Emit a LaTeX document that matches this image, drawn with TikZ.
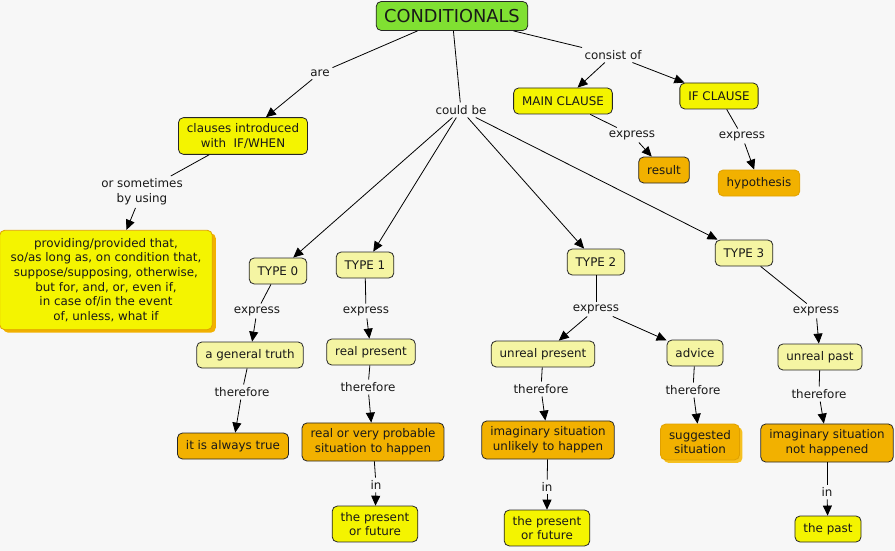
\documentclass[tikz,border=0pt]{standalone}
\usepackage{fontspec}
\setmainfont{DejaVu Sans}
\usetikzlibrary{arrows.meta,shadows}

\definecolor{mapbg}{HTML}{F7F7F7}
\definecolor{titlegreen}{HTML}{80E032}
\definecolor{yel}{HTML}{F4F400}
\definecolor{paleyel}{HTML}{F5F5A3}
\definecolor{org}{HTML}{F2B100}
\definecolor{orgline}{HTML}{E0A000}
\definecolor{orgshadow}{HTML}{F5C020}

\begin{document}
\begin{tikzpicture}[x=1pt, y=-1pt, ->, >={Triangle[length=10pt,width=9pt]}, line width=0.8pt, draw=black]
	\tikzstyle{every node}=[font=\fontsize{11.9}{14.6}\selectfont, text=black!90]
	\tikzstyle{concept}=[draw=black!85, rounded corners=5pt, align=center, inner xsep=8.5pt, inner ysep=6pt, minimum height=26pt]
	\tikzstyle{link}=[inner sep=2.5pt, align=center]
	\useasboundingbox[fill=mapbg] (0,0) rectangle (895,551);
	% top level
	\node[concept, fill=titlegreen, font=\fontsize{17.8}{20}\selectfont, minimum height=29pt, inner xsep=8pt] (cond) at (452,16) {CONDITIONALS};
	\node[link] (are)     at (320,73)  {are};
	\node[link] (could)   at (461,110) {could be};
	\node[link] (consist) at (613,55)  {consist of};
	% left branch
	\node[concept, fill=yel] (clauses) at (243,136) {clauses introduced\\with\ \ IF/WHEN};
	\node[link] (sometimes) at (142,192) {or sometimes\\by using};
	\node[concept, fill=yel, draw=orgline, inner xsep=11pt, inner ysep=8pt,
		drop shadow={shadow xshift=3.5pt, shadow yshift=-3pt, fill=org, opacity=1}] (providing) at (106,280)
		{providing/provided that,\\so/as long as, on condition that,\\suppose/supposing, otherwise,\\but for, and, or, even if,\\in case of/in the event\\of, unless, what if};
	% clauses
	\node[concept, fill=yel] (main) at (563,101) {MAIN CLAUSE};
	\node[concept, fill=yel] (ifc)  at (719,96)  {IF CLAUSE};
	\node[link] (exmain) at (632,135) {express};
	\node[link] (exif)   at (742,136) {express};
	\node[concept, fill=org] (result) at (664,170) {result};
	\node[concept, fill=org, draw=orgline] (hyp) at (759,183) {hypothesis};
	% types
	\node[concept, fill=paleyel] (t0) at (278,271) {TYPE 0};
	\node[concept, fill=paleyel] (t1) at (365,265) {TYPE 1};
	\node[concept, fill=paleyel] (t2) at (596,262) {TYPE 2};
	\node[concept, fill=paleyel] (t3) at (744,253) {TYPE 3};
	\node[link] (ex0) at (257,311) {express};
	\node[link] (ex1) at (366,311) {express};
	\node[link] (ex2) at (596,309) {express};
	\node[link] (ex3) at (816,311) {express};
	\node[concept, fill=paleyel] (truth)   at (250,355) {a general truth};
	\node[concept, fill=paleyel] (realpr)  at (371,352) {real present};
	\node[concept, fill=paleyel] (unrpr)   at (543,354) {unreal present};
	\node[concept, fill=paleyel] (advice)  at (695,353) {advice};
	\node[concept, fill=paleyel] (unrpast) at (820,357) {unreal past};
	\node[link] (th0) at (242,392) {therefore};
	\node[link] (th1) at (368,387) {therefore};
	\node[link] (th2) at (541,389) {therefore};
	\node[link] (tha) at (693,390) {therefore};
	\node[link] (th3) at (819,394) {therefore};
	\node[concept, fill=org] (always)   at (233,446) {it is always true};
	\node[concept, fill=org] (probable) at (373,442) {real or very probable\\situation to happen};
	\node[concept, fill=org] (unlikely) at (548,440) {imaginary situation\\unlikely to happen};
	\node[concept, fill=org, draw=orgline,
		drop shadow={shadow xshift=3pt, shadow yshift=-3pt, fill=orgshadow, opacity=1}] (suggested) at (700,442) {suggested\\situation};
	\node[concept, fill=org] (nothap)   at (827,443) {imaginary situation\\not happened};
	\node[link] (in1) at (376,485) {in};
	\node[link] (in2) at (547,487) {in};
	\node[link] (in3) at (827,492) {in};
	\node[concept, fill=yel] (future1) at (375,524) {the present\\or future};
	\node[concept, fill=yel] (future2) at (547,528) {the present\\or future};
	\node[concept, fill=yel] (past)    at (828,529) {the past};
	\path
		(cond) edge[-] (are)
		       edge[-] (could)
		       edge[-] (consist)
		(are) edge (clauses)
		(clauses) edge[-] (sometimes)
		(sometimes) edge (providing)
		(consist) edge (main)
		          edge (ifc)
		(main) edge[-] (exmain)
		(exmain) edge (result)
		(ifc) edge[-] (exif)
		(exif) edge (hyp)
		(could) edge (t0)
		        edge (t1)
		        edge (t2)
		        edge (t3)
		(t0) edge[-] (ex0)  (ex0) edge (truth)
		(t1) edge[-] (ex1)  (ex1) edge (realpr)
		(t2) edge[-] (ex2)  (ex2) edge (unrpr)
		                          edge (advice)
		(t3) edge[-] (ex3)  (ex3) edge (unrpast)
		(truth) edge[-] (th0)   (th0) edge (always)
		(realpr) edge[-] (th1)  (th1) edge (probable)
		(unrpr) edge[-] (th2)   (th2) edge (unlikely)
		(advice) edge[-] (tha)  (tha) edge (suggested)
		(unrpast) edge[-] (th3) (th3) edge (nothap)
		(probable) edge[-] (in1) (in1) edge (future1)
		(unlikely) edge[-] (in2) (in2) edge (future2)
		(nothap) edge[-] (in3)   (in3) edge (past);
\end{tikzpicture}
\end{document}
